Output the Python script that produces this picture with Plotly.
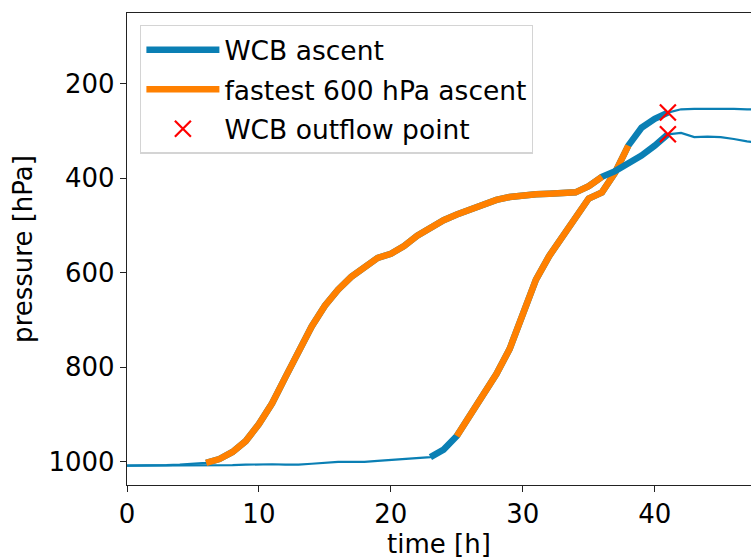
import plotly.graph_objects as go

# ---------------- data ----------------
time_h = list(range(0, 49))

# trajectory A (early ascent, outflow at ~307 hPa)
p_traj_a = [1009, 1009, 1008, 1008, 1007, 1005, 1003, 995, 980, 957,
            921, 877, 822, 765, 714, 670, 636, 609, 587, 569,
            560, 544, 522, 504, 489, 477, 467, 456, 446, 440,
            436, 434, 433, 433, 430, 417, 397, 385, 369, 352,
            331, 307, 304, 313, 312, 313, 317, 322, 325]

# trajectory B (late ascent, outflow at ~261 hPa)
p_traj_b = [1009, 1009, 1009, 1009, 1009, 1009, 1009, 1009, 1008, 1007,
            1006, 1006, 1007, 1007, 1005, 1003, 1001, 1001, 1001, 999,
            997, 995, 993, 991, 975, 946, 901, 858, 815, 762,
            685, 615, 565, 524, 480, 443, 430, 388, 331, 293,
            274, 261, 254, 253, 253, 252, 253, 254, 255]

# segment limits (start hour, end hour)
wcb_a = (6, 41)
fast_a = (6, 36)
wcb_b = (23, 41)
fast_b = (25, 38)
outflow_t = [41, 41]
outflow_p = [p_traj_a[41], p_traj_b[41]]

x_ticks = [0, 10, 20, 30, 40]
y_ticks = [200, 400, 600, 800, 1000]

BLUE = "#0a7fb4"
ORANGE = "#ff8000"
FONT = "DejaVu Sans"

fig = go.Figure()

first = {"wcb": True, "fast": True}


def add_traj(p, wcb, fast):
    fig.add_trace(go.Scatter(x=time_h, y=p, mode="lines",
                             line=dict(color=BLUE, width=2.2),
                             showlegend=False, hoverinfo="skip"))
    s, e = wcb
    fig.add_trace(go.Scatter(x=time_h[s:e + 1], y=p[s:e + 1], mode="lines",
                             line=dict(color=BLUE, width=6.5),
                             name="WCB ascent", legendgroup="wcb",
                             legendrank=1,
                             showlegend=first["wcb"]))
    first["wcb"] = False
    s, e = fast
    fig.add_trace(go.Scatter(x=time_h[s:e + 1], y=p[s:e + 1], mode="lines",
                             line=dict(color=ORANGE, width=6.5),
                             name="fastest 600 hPa ascent", legendgroup="fast",
                             legendrank=2,
                             showlegend=first["fast"]))
    first["fast"] = False


add_traj(p_traj_b, wcb_b, fast_b)
add_traj(p_traj_a, wcb_a, fast_a)

fig.add_trace(go.Scatter(x=outflow_t, y=outflow_p, mode="markers",
                         marker=dict(symbol="x-thin-open", size=16,
                                     color="red",
                                     line=dict(color="red", width=2.2)),
                         name="WCB outflow point", legendrank=3))

axis_common = dict(
    showline=True, linecolor="#222222", linewidth=1.3,
    ticks="outside", ticklen=6, tickwidth=1.3, tickcolor="#222222",
    showgrid=False, zeroline=False,
    tickfont=dict(family=FONT, size=26, color="black"),
)

fig.update_layout(
    width=751, height=559,
    margin=dict(l=127, r=0, t=13, b=74, pad=0),
    paper_bgcolor="white", plot_bgcolor="white",
    font=dict(family=FONT, size=26, color="black"),
    xaxis=dict(range=[0, 47.3], tickvals=x_ticks, mirror=True,
               title=dict(text="time [h]", font=dict(family=FONT, size=26),
                          standoff=1),
               **axis_common),
    yaxis=dict(range=[1050, 50], tickvals=y_ticks,
               title=dict(text="pressure [hPa]", font=dict(family=FONT, size=26),
                          standoff=8),
               **axis_common),
    legend=dict(x=0.021, y=0.975, xanchor="left", yanchor="top",
                bgcolor="rgba(255,255,255,0.85)", bordercolor="#d4d4d4",
                borderwidth=1.3, font=dict(family=FONT, size=26.5),
                itemwidth=73, tracegroupgap=2),
)

fig.write_html("out.html", config={"displayModeBar": False},
               post_script="document.body.style.margin='0';")
